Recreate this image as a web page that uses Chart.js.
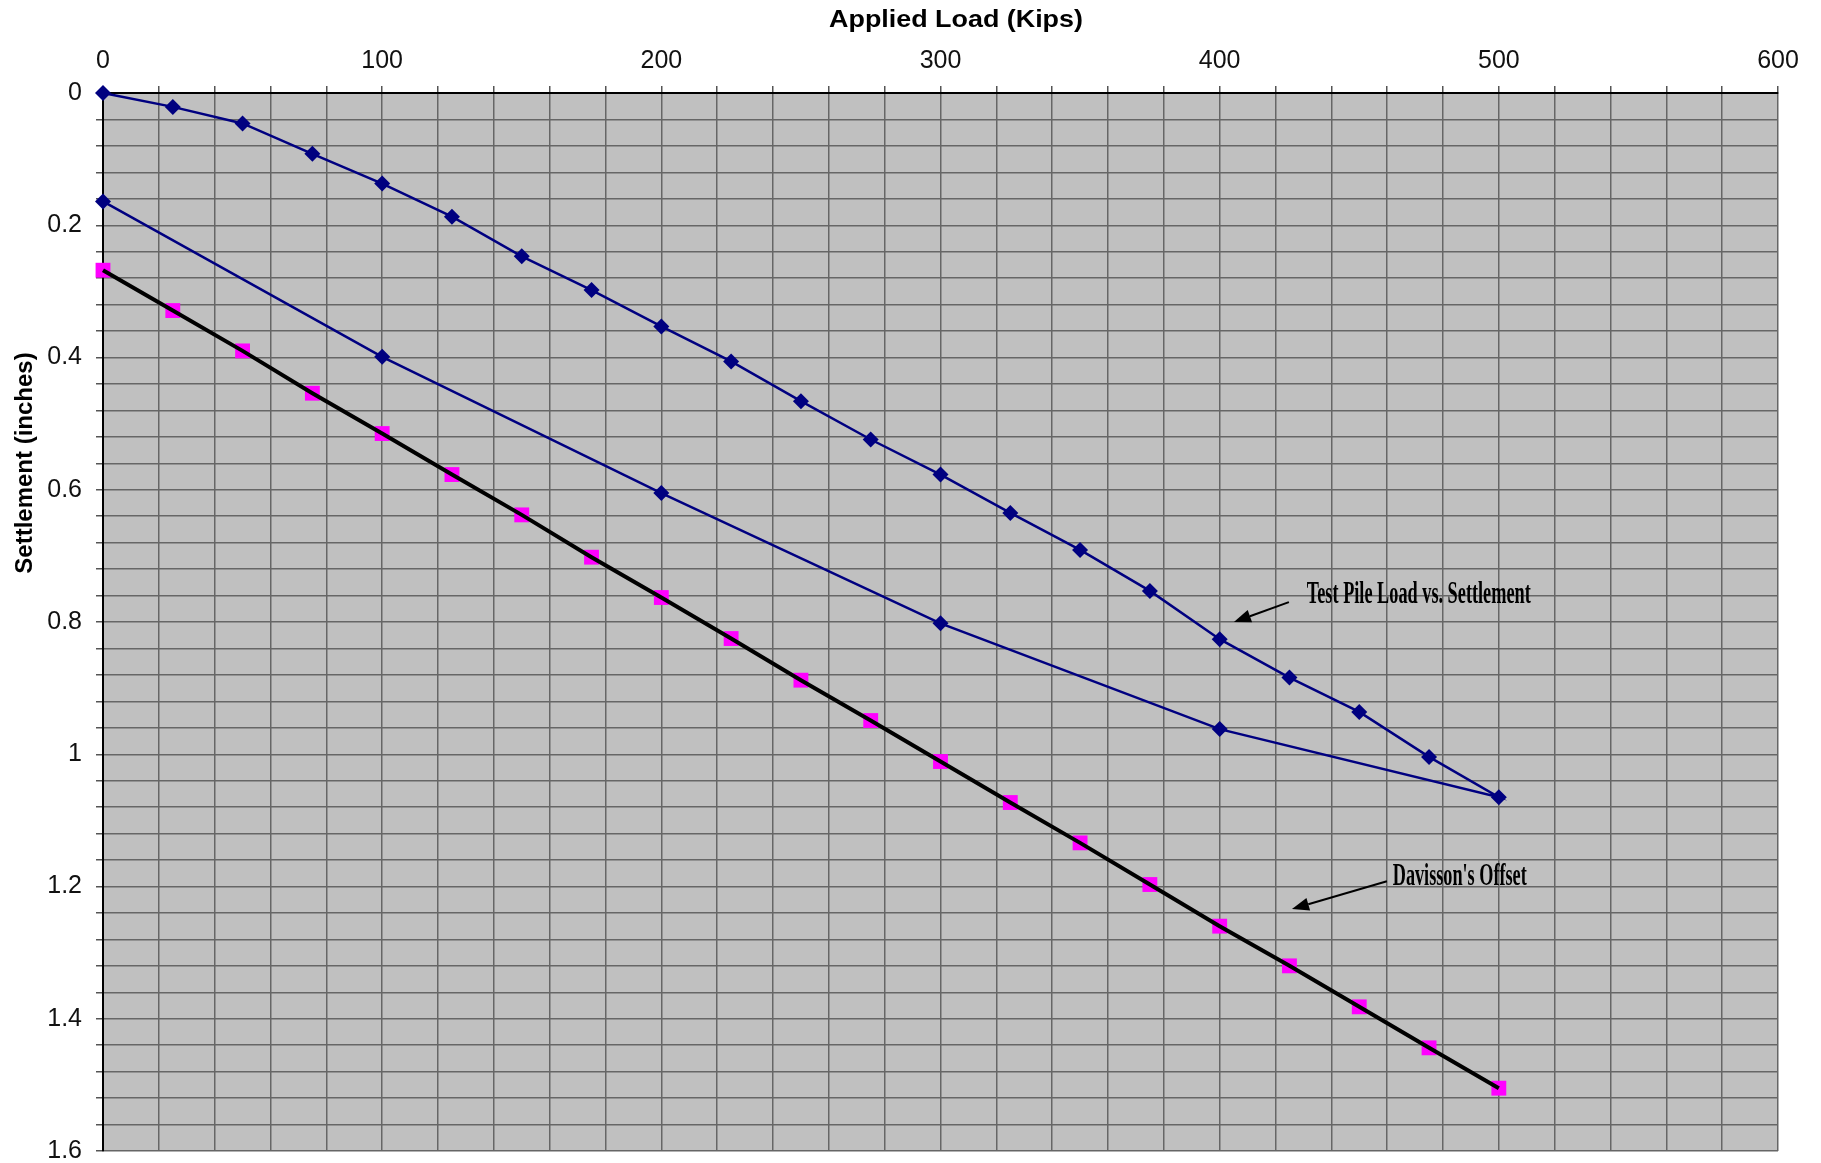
<!DOCTYPE html>
<html>
<head>
<meta charset="utf-8">
<title>Applied Load vs. Settlement</title>
<script src="https://cdn.jsdelivr.net/npm/chart.js@4.4.1/dist/chart.umd.min.js"></script>
<style>
  html, body { margin: 0; padding: 0; background: #ffffff; }
  #wrap { width: 1821px; height: 1163px; }
</style>
</head>
<body>
<div id="wrap"><canvas id="chart" width="1821" height="1163"></canvas></div>
<script>
// Static load test: loading in 25-kip increments to 500 kips, then unloading in 100-kip steps
const pileLoadKips = [0, 25, 50, 75, 100, 125, 150, 175, 200, 225, 250, 275, 300, 325, 350, 375, 400, 425, 450, 475, 500,
                      400, 300, 200, 100, 0];
const pileSettlementIn = [0, 0.021, 0.046, 0.092, 0.137, 0.187, 0.247, 0.298, 0.353, 0.406, 0.466, 0.524, 0.577, 0.635, 0.691, 0.753, 0.826, 0.884, 0.936, 1.004, 1.065,
                          0.962, 0.802, 0.605, 0.399, 0.164];

// Davisson's offset limit line
const offsetLoadKips = [0, 25, 50, 75, 100, 125, 150, 175, 200, 225, 250, 275, 300, 325, 350, 375, 400, 425, 450, 475, 500];
const offsetSettlementIn = [0.268, 0.329, 0.390, 0.454, 0.515, 0.577, 0.638, 0.702, 0.763, 0.825, 0.888, 0.949, 1.011, 1.073, 1.134, 1.197, 1.260, 1.320, 1.382, 1.444, 1.505];

const xTickLabels = ['0', '100', '200', '300', '400', '500', '600'];
const yTickLabels = ['0', '0.2', '0.4', '0.6', '0.8', '1', '1.2', '1.4', '1.6'];

const xTitle = 'Applied Load (Kips)';
const yTitle = 'Settlement (inches)';
const pileLabel = 'Test Pile Load vs. Settlement';
const offsetLabel = "Davisson's Offset";

const SANS = "'Liberation Sans', Arial, sans-serif";
const SERIF = "'Liberation Serif', 'Times New Roman', serif";

function toPoints(xs, ys) {
  return xs.map((x, i) => ({ x: x, y: ys[i] }));
}

// grey plotting field behind the grid
const plotBackground = {
  id: 'plotBackground',
  beforeDraw(chart) {
    const { ctx, chartArea: a } = chart;
    ctx.save();
    ctx.fillStyle = '#c0c0c0';
    ctx.fillRect(a.left, a.top, a.right - a.left, a.bottom - a.top);
    ctx.restore();
  }
};

function drawArrow(ctx, x0, y0, x1, y1) {
  const ang = Math.atan2(y1 - y0, x1 - x0);
  const len = 17, half = 6.5;
  const bx = x1 - Math.cos(ang) * len, by = y1 - Math.sin(ang) * len;
  ctx.beginPath();
  ctx.moveTo(x0, y0);
  ctx.lineTo(bx, by);
  ctx.lineWidth = 2;
  ctx.strokeStyle = '#000';
  ctx.stroke();
  ctx.beginPath();
  ctx.moveTo(x1, y1);
  ctx.lineTo(bx + Math.sin(ang) * half, by - Math.cos(ang) * half);
  ctx.lineTo(bx - Math.sin(ang) * half, by + Math.cos(ang) * half);
  ctx.closePath();
  ctx.fillStyle = '#000';
  ctx.fill();
}

function drawNarrowText(ctx, text, x, y, fontPx, width) {
  ctx.save();
  ctx.font = 'bold ' + fontPx + 'px ' + SERIF;
  const w = ctx.measureText(text).width;
  ctx.translate(x, y);
  ctx.scale(width / w, 1);
  ctx.fillStyle = '#000';
  ctx.textAlign = 'left';
  ctx.textBaseline = 'alphabetic';
  ctx.fillText(text, 0, 0);
  ctx.restore();
}

// axis titles and callout labels with arrows
const labelsAndCallouts = {
  id: 'labelsAndCallouts',
  afterDraw(chart) {
    const { ctx } = chart;
    const xs = chart.scales.x, ys = chart.scales.y;
    const px = v => xs.getPixelForValue(v);
    const py = v => ys.getPixelForValue(v);

    ctx.save();
    ctx.fillStyle = '#000';
    ctx.font = 'bold 24px ' + SANS;
    ctx.textAlign = 'center';
    ctx.textBaseline = 'alphabetic';
    ctx.save();
    ctx.translate(956, 27);
    ctx.scale(1.12, 1);
    ctx.fillText(xTitle, 0, 0);
    ctx.restore();

    ctx.save();
    ctx.translate(32, 463);
    ctx.rotate(-Math.PI / 2);
    ctx.fillText(yTitle, 0, 0);
    ctx.restore();
    ctx.restore();

    // callout for the load test curve
    drawArrow(ctx, px(424.8), py(0.770), px(405.1), py(0.800));
    drawNarrowText(ctx, pileLabel, px(431.2), py(0.771), 32, 224);

    // callout for the offset line
    drawArrow(ctx, px(459.9), py(1.192), px(425.9), py(1.234));
    drawNarrowText(ctx, offsetLabel, px(462.0), py(1.198), 32, 134);
  }
};

new Chart(document.getElementById('chart'), {
  type: 'scatter',
  data: {
    datasets: [
      {
        label: offsetLabel + ' line',
        data: toPoints(offsetLoadKips, offsetSettlementIn),
        showLine: true,
        borderColor: '#000000',
        borderWidth: 4,
        pointRadius: 0,
        pointHoverRadius: 0,
        clip: false
      },
      {
        label: offsetLabel,
        data: toPoints(offsetLoadKips, offsetSettlementIn),
        showLine: false,
        pointStyle: 'rect',
        pointRadius: 10.5,
        pointBackgroundColor: '#ff00ff',
        pointBorderColor: '#ff00ff',
        pointBorderWidth: 0,
        clip: false
      },
      {
        label: pileLabel,
        data: toPoints(pileLoadKips, pileSettlementIn),
        showLine: true,
        borderColor: '#000080',
        borderWidth: 2.5,
        pointStyle: 'rectRot',
        pointRadius: 8,
        pointBackgroundColor: '#000080',
        pointBorderColor: '#000080',
        pointBorderWidth: 0,
        clip: false
      }
    ]
  },
  options: {
    responsive: false,
    animation: false,
    devicePixelRatio: 1,
    layout: { padding: { left: 0, top: 0, right: 43, bottom: 12 } },
    plugins: {
      legend: { display: false },
      tooltip: { enabled: false }
    },
    scales: {
      x: {
        type: 'linear',
        position: 'top',
        min: 0,
        max: 600,
        afterFit(scale) {
          scale.height = 93;
          scale.paddingLeft = 0;
          scale.paddingRight = 0;
        },
        ticks: {
          stepSize: 20,
          autoSkip: false,
          maxRotation: 0,
          padding: 10,
          color: '#111',
          font: { family: SANS, size: 25 },
          callback: v => (v % 100 === 0 ? xTickLabels[v / 100] : '')
        },
        grid: { color: '#666666', lineWidth: 1.5, tickLength: 7, tickColor: '#555' },
        border: { color: '#000', width: 2 }
      },
      y: {
        type: 'linear',
        position: 'left',
        reverse: true,
        min: 0,
        max: 1.6,
        afterFit(scale) {
          scale.width = 103;
          scale.paddingTop = 0;
          scale.paddingBottom = 0;
        },
        ticks: {
          stepSize: 0.04,
          autoSkip: false,
          padding: 14,
          color: '#111',
          font: { family: SANS, size: 25, lineHeight: 1 },
          callback: v => {
            const k = v / 0.2;
            return Math.abs(k - Math.round(k)) < 1e-6 ? yTickLabels[Math.round(k)] : '';
          }
        },
        grid: { color: '#666666', lineWidth: 1.5, tickLength: 7, tickColor: '#555' },
        border: { color: '#000', width: 2 }
      }
    }
  },
  plugins: [plotBackground, labelsAndCallouts]
});
</script>
</body>
</html>
